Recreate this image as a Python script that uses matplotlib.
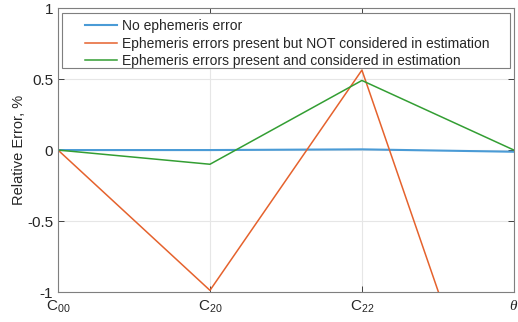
import numpy as np
import matplotlib.pyplot as plt
from matplotlib.patches import Rectangle

plt.rcParams['font.family'] = ['Liberation Sans', 'DejaVu Sans']
plt.rcParams['mathtext.fontset'] = 'custom'
plt.rcParams['mathtext.rm'] = 'Liberation Sans'
plt.rcParams['mathtext.it'] = 'Liberation Serif:italic'

categories = ["C$_{00}$", "C$_{20}$", "C$_{22}$", r"$\mathit{\theta}$"]
no_error = [0.0, 0.0, 0.005, -0.012]
not_considered = [0.0, -0.988, 0.563, -2.54]
considered = [0.0, -0.10, 0.49, 0.0]
labels = ["No ephemeris error",
          "Ephemeris errors present but NOT considered in estimation",
          "Ephemeris errors present and considered in estimation"]

fig = plt.figure(figsize=(5.18, 3.22), dpi=100)
ax = fig.add_axes([0.112, 0.093, 0.880, 0.882])

x = np.arange(len(categories))
ax.plot(x, no_error, color="#4a9bd6", lw=1.5, label=labels[0])
ax.plot(x, not_considered, color="#e5622d", lw=1.1, label=labels[1])
ax.plot(x, considered, color="#339e33", lw=1.1, label=labels[2])

ax.set_xlim(0, 3)
ax.set_ylim(-1, 1)
ax.set_xticks(x)
ax.set_xticklabels(categories)
ax.set_yticks([-1, -0.5, 0, 0.5, 1])
ax.set_yticklabels(["-1", "-0.5", "0", "0.5", "1"])
ax.grid(True, color="#e6e6e6", lw=0.8)
ax.set_axisbelow(True)
ax.tick_params(direction="in", length=4, colors="#262626", labelsize=11,
               top=True, right=True, width=0.6)
ax.tick_params(axis="x", pad=5)
for s in ax.spines.values():
    s.set_color("#7f7f7f")
    s.set_linewidth(0.8)
ax.set_ylabel("Relative Error, %", fontsize=10.5, color="#262626", labelpad=1)

# legend box like MATLAB's, drawn separately
frame = Rectangle((0.009, 0.789), 0.982, 0.193, transform=ax.transAxes,
                  facecolor="white", edgecolor="#7f7f7f", lw=0.8, zorder=4)
ax.add_patch(frame)
leg = ax.legend(loc="upper left", bbox_to_anchor=(0.059, 0.961), fontsize=10,
                frameon=False, handlelength=2.3, handletextpad=0.4,
                borderpad=0, labelspacing=0.25, borderaxespad=0)
leg.set_zorder(5)
for t in leg.get_texts():
    t.set_color("#262626")

plt.savefig("out.png", dpi=100)
